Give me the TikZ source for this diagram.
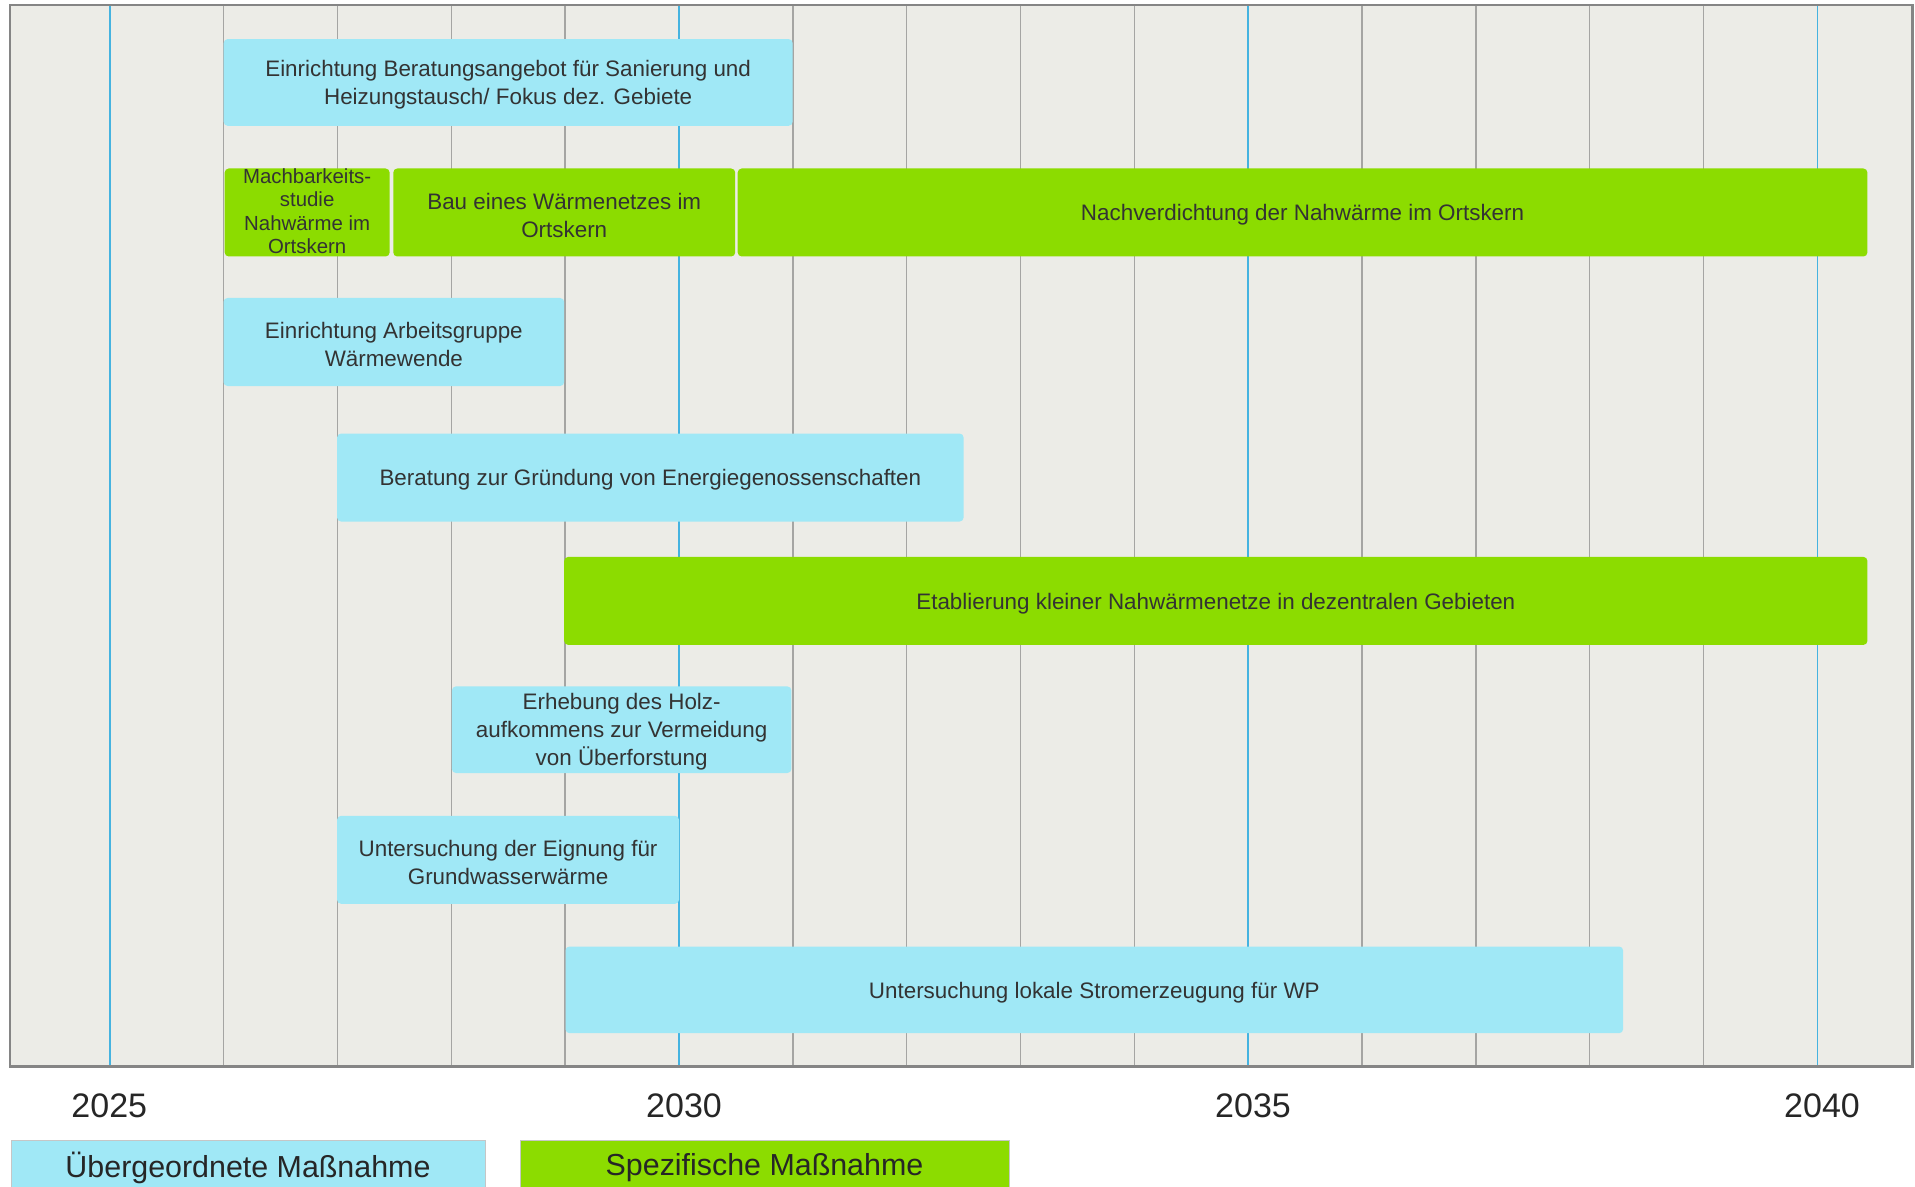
\documentclass[tikz,border=0pt]{standalone}
\usepackage{fontspec}
\setmainfont{Liberation Sans}
\definecolor{bgc}{HTML}{ECECE7}
\definecolor{blubar}{HTML}{A0E8F6}
\definecolor{grnbar}{HTML}{8CDC00}
\definecolor{gridgray}{HTML}{A5A5A3}
\definecolor{gridblue}{HTML}{45B3E0}
\definecolor{framegray}{HTML}{858585}
\definecolor{txt}{HTML}{333333}
% #1 name, #2 fill style, #3 cx, #4 cy, #5 width (pt), #6 height (pt), #7 text, #8 font
\newcommand\gantbar[8]{%
  \node[#2,minimum width=#5,minimum height=#6] (#1) at (#3,#4) {};
  \node[bartext,font=#8] (#1t) at ([yshift=-1.25pt]#1.center) {#7};}
\begin{document}
\begin{tikzpicture}[x=0.5pt,y=-0.5pt,
  gridline/.style={draw=gridgray,line width=0.75pt},
  bluegrid/.style={draw=gridblue,line width=0.75pt},
  frameline/.style={draw=framegray,line width=1.3pt},
  barbase/.style={rounded corners=2pt,inner sep=0pt},
  bartext/.style={inner sep=0pt,align=center,text=txt},
  ubox/.style={barbase,fill=blubar},
  sbox/.style={barbase,fill=grnbar},
  yearlabel/.style={font=\fontsize{17}{20}\selectfont,text=black!85,inner sep=0pt},
  legendbox/.style={draw=gray!45,line width=0.5pt,inner sep=0pt,minimum height=26.5pt},
  legendtext/.style={font=\fontsize{15.2}{18}\selectfont,text=black!85,inner sep=0pt}]
\useasboundingbox (0,0) rectangle (1915,1187);
\fill[white] (0,0) rectangle (1915,1187);
\fill[bgc] (9.8,4.9) rectangle (1912.6,1066.2);
\foreach \k in {1,2,3,4,6,7,8,9,11,12,13,14}
  \draw[gridline] ({109.9+\k*113.83},4.9) -- ({109.9+\k*113.83},1066.2);
\foreach \k in {0,5,10,15}
  \draw[bluegrid] ({109.9+\k*113.83},4.9) -- ({109.9+\k*113.83},1066.2);
\draw[frameline] (9.8,4.9) rectangle (1912.6,1066.2);

\def\bf{\fontsize{11.2}{14}\selectfont}
\gantbar{b1}{ubox}{508.15}{82.45}{284.45pt}{43.4pt}
  {Einrichtung Beratungsangebot für Sanierung und\\Heizungstausch/ Fokus dez. Gebiete}{\bf}
\node[sbox,minimum width=82.45pt,minimum height=44pt] (b2a) at (307.15,212.5) {};
\node[bartext,font=\fontsize{10.2}{11.6}\selectfont] (b2at) at ([yshift=0.6pt]b2a.center)
  {Machbarkeits-\\studie\\Nahwärme im\\Ortskern};
\gantbar{b2b}{sbox}{564.25}{212.5}{170.95pt}{44pt}
  {Bau eines Wärmenetzes im\\Ortskern}{\bf}
\gantbar{b2c}{sbox}{1302.55}{212.5}{564.85pt}{44pt}
  {Nachverdichtung der Nahwärme im Ortskern}{\bf}
\gantbar{b3}{ubox}{393.85}{342}{170.35pt}{44pt}
  {Einrichtung Arbeitsgruppe\\Wärmewende}{\bf}
\gantbar{b4}{ubox}{650.35}{477.55}{313.25pt}{44pt}
  {Beratung zur Gründung von Energiegenossenschaften}{\bf}
\gantbar{b5}{sbox}{1215.8}{600.9}{651.6pt}{44pt}
  {Etablierung kleiner Nahwärmenetze in dezentralen Gebieten}{\bf}
\gantbar{b6}{ubox}{621.65}{729.7}{169.75pt}{43.3pt}
  {Erhebung des Holz-\\aufkommens zur Vermeidung\\von Überforstung}{\bf}
\gantbar{b7}{ubox}{508.05}{859.8}{170.95pt}{44pt}
  {Untersuchung der Eignung für\\Grundwasserwärme}{\bf}
\gantbar{b8}{ubox}{1094.3}{989.85}{528.8pt}{43.35pt}
  {Untersuchung lokale Stromerzeugung für WP}{\bf}

\node[yearlabel] (y2025) at (109.3,1106) {2025};
\node[yearlabel] (y2030) at (684,1106) {2030};
\node[yearlabel] (y2035) at (1253,1106) {2035};
\node[yearlabel] (y2040) at (1822,1106) {2040};

\node[legendbox,fill=blubar,minimum width=237pt] (l1) at (248,1166.5) {};
\node[legendtext] (l1t) at (248,1168) {Übergeordnete Maßnahme};
\node[legendbox,fill=grnbar,minimum width=244.5pt] (l2) at (764.5,1166.5) {};
\node[legendtext] (l2t) at (764.5,1168) {Spezifische Maßnahme};
\end{tikzpicture}
\end{document}
